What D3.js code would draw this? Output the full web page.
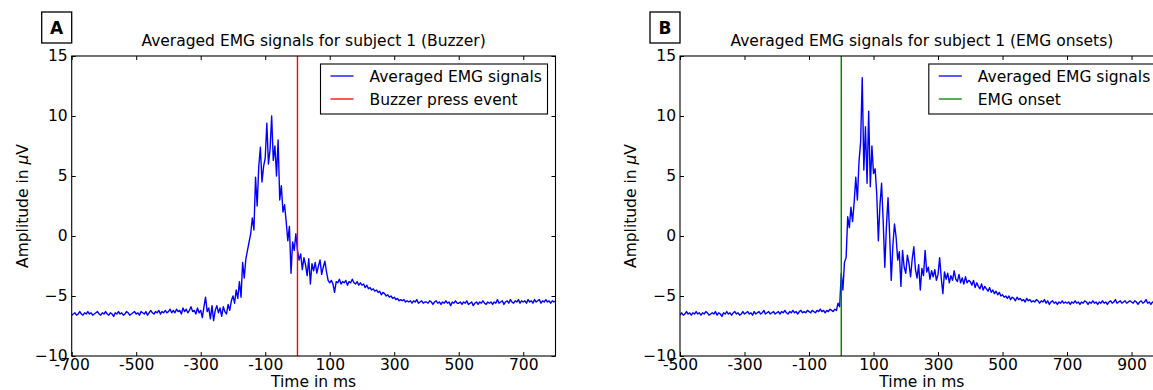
<!DOCTYPE html>
<html>
<head>
<meta charset="utf-8">
<script src="https://cdn.jsdelivr.net/npm/d3@7"></script>
<style>
  body { margin: 0; background: #fff; }
  svg { display: block; font-family: 'DejaVu Sans', sans-serif; }
</style>
</head>
<body>
<svg width="1153" height="390"></svg>
<script>
// Averaged EMG amplitude (uV), one value every 5 ms
// Panel A: -700 .. 800 ms, aligned on buzzer press
const emgA = [
  -6.6,-6.5,-6.4,-6.6,-6.5,-6.3,-6.5,-6.6,-6.4,-6.5,-6.3,-6.5,-6.4,-6.6,-6.5,-6.4,-6.3,-6.5,-6.6,-6.4,
  -6.5,-6.3,-6.5,-6.6,-6.4,-6.5,-6.7,-6.4,-6.5,-6.3,-6.5,-6.4,-6.6,-6.5,-6.3,-6.4,-6.6,-6.5,-6.4,-6.3,
  -6.5,-6.4,-6.6,-6.3,-6.4,-6.5,-6.3,-6.6,-6.4,-6.2,-6.4,-6.5,-6.3,-6.4,-6.2,-6.5,-6.3,-6.4,-6.2,-6.4,
  -6.3,-6.1,-6.4,-6.2,-6.4,-6.1,-6.3,-6.2,-6.5,-6.0,-6.3,-6.1,-6.4,-6.2,-5.9,-6.3,-6.2,-6.5,-6.0,-6.4,
  -6.2,-6.8,-5.9,-5.1,-6.3,-6.0,-6.9,-5.8,-7.05,-6.2,-5.8,-6.4,-6.0,-6.7,-5.9,-6.3,-6.5,-5.7,-6.2,-5.4,
  -5.0,-5.6,-4.5,-5.2,-3.8,-5.1,-2.2,-3.5,-1.9,-1.2,-0.5,0.2,1.5,0.5,4.9,2.5,5.8,7.4,4.5,5.8,
  6.5,9.4,6.0,7.2,10.0,6.3,7.5,5.0,8.0,3.0,4.2,2.0,2.6,1.2,-0.4,0.8,-3.1,-0.5,-1.2,0.2,
  -1.2,-2.0,-1.5,-2.8,-1.8,-2.4,-3.3,-1.9,-4.0,-2.3,-2.9,-2.2,-3.1,-2.5,-2.0,-3.2,-2.6,-2.1,-3.0,-3.7,
  -3.9,-3.7,-4.0,-4.7,-3.8,-3.9,-3.6,-4.0,-3.8,-3.9,-3.7,-4.1,-3.8,-3.9,-3.6,-3.9,-4.0,-3.8,-4.1,-3.9,
  -4.1,-4.0,-4.3,-4.1,-4.4,-4.3,-4.5,-4.4,-4.6,-4.5,-4.7,-4.6,-4.9,-4.7,-4.8,-5.0,-4.9,-5.1,-5.0,-5.2,
  -5.1,-5.3,-5.2,-5.4,-5.3,-5.4,-5.3,-5.5,-5.4,-5.5,-5.4,-5.6,-5.4,-5.5,-5.3,-5.6,-5.5,-5.4,-5.6,-5.5,
  -5.5,-5.6,-5.4,-5.5,-5.7,-5.5,-5.4,-5.6,-5.5,-5.7,-5.5,-5.6,-5.4,-5.6,-5.5,-5.8,-5.5,-5.6,-5.4,-5.6,
  -5.6,-5.5,-5.7,-5.5,-5.6,-5.4,-5.7,-5.6,-5.5,-5.8,-5.6,-5.5,-5.7,-5.5,-5.6,-5.4,-5.6,-5.7,-5.5,-5.6,
  -5.5,-5.7,-5.5,-5.6,-5.3,-5.6,-5.5,-5.4,-5.7,-5.5,-5.4,-5.6,-5.3,-5.5,-5.6,-5.4,-5.5,-5.3,-5.6,-5.4,
  -5.5,-5.4,-5.6,-5.3,-5.5,-5.4,-5.6,-5.3,-5.5,-5.4,-5.3,-5.6,-5.4,-5.5,-5.3,-5.5,-5.4,-5.6,-5.4,-5.5,-5.4
];

// Panel B: -500 .. 1000 ms, aligned on EMG onset
const emgB = [
  -6.6,-6.4,-6.6,-6.5,-6.3,-6.5,-6.4,-6.6,-6.4,-6.5,-6.3,-6.5,-6.4,-6.6,-6.4,-6.5,-6.3,-6.4,-6.6,-6.5,
  -6.4,-6.5,-6.3,-6.6,-6.4,-6.5,-6.7,-6.4,-6.5,-6.3,-6.5,-6.4,-6.6,-6.4,-6.3,-6.5,-6.4,-6.6,-6.5,-6.3,
  -6.5,-6.4,-6.3,-6.5,-6.4,-6.6,-6.3,-6.5,-6.4,-6.3,-6.5,-6.4,-6.2,-6.5,-6.4,-6.3,-6.5,-6.4,-6.3,-6.5,
  -6.4,-6.3,-6.5,-6.3,-6.4,-6.2,-6.4,-6.5,-6.3,-6.4,-6.2,-6.4,-6.3,-6.5,-6.3,-6.2,-6.4,-6.3,-6.4,-6.2,
  -6.3,-6.4,-6.2,-6.3,-6.4,-6.2,-6.3,-6.1,-6.3,-6.2,-6.4,-6.2,-6.3,-6.1,-6.2,-6.3,-6.1,-6.2,-5.6,-5.9,
  -3.1,-4.5,-2.2,-1.8,1.6,0.7,2.4,1.2,2.8,4.9,3.0,6.2,7.8,13.2,5.5,9.1,4.4,10.4,4.1,7.5,
  5.2,5.6,3.5,-0.4,2.6,4.4,1.2,-2.6,0.8,3.2,0.1,-3.7,-0.8,1.0,-0.1,-2.0,-1.3,-4.2,-1.2,-2.6,
  -3.1,-1.6,-2.3,-3.4,-1.9,-0.9,-2.8,-3.5,-2.4,-4.5,-2.7,-3.3,-1.2,-3.0,-2.6,-3.6,-2.9,-3.4,-2.8,-3.7,
  -3.2,-1.8,-3.5,-4.8,-3.0,-3.6,-3.1,-3.9,-3.3,-3.7,-2.9,-3.6,-3.8,-3.2,-3.9,-3.5,-4.0,-3.4,-3.9,-3.7,
  -3.8,-4.1,-3.7,-4.3,-3.9,-4.2,-4.4,-4.0,-4.5,-4.2,-4.4,-4.6,-4.3,-4.7,-4.5,-4.8,-4.6,-4.9,-4.7,-5.0,
  -4.9,-5.1,-5.0,-5.2,-5.0,-5.3,-5.1,-5.2,-5.4,-5.1,-5.3,-5.2,-5.4,-5.3,-5.5,-5.2,-5.4,-5.3,-5.5,-5.4,
  -5.5,-5.3,-5.4,-5.6,-5.4,-5.5,-5.3,-5.6,-5.4,-5.7,-5.5,-5.4,-5.6,-5.5,-5.7,-5.5,-5.6,-5.4,-5.6,-5.5,
  -5.6,-5.5,-5.7,-5.5,-5.6,-5.4,-5.6,-5.5,-5.7,-5.5,-5.6,-5.4,-5.5,-5.7,-5.5,-5.6,-5.4,-5.6,-5.5,-5.7,
  -5.5,-5.6,-5.4,-5.6,-5.5,-5.7,-5.5,-5.4,-5.6,-5.5,-5.3,-5.6,-5.5,-5.4,-5.6,-5.5,-5.4,-5.6,-5.5,-5.4,
  -5.5,-5.6,-5.4,-5.5,-5.7,-5.5,-5.4,-5.6,-5.5,-5.3,-5.6,-5.5,-5.7,-5.5,-5.6,-5.4,-5.6,-5.5,-5.7,-5.6,-5.5
];

const startA = -700;
const startB = -500;
const stepMs = 5;

// tick labels
const xTicksA = [-700, -500, -300, -100, 100, 300, 500, 700];
const xTicksB = [-500, -300, -100, 100, 300, 500, 700, 900];
const yTicks  = [-10, -5, 0, 5, 10, 15];

const svg = d3.select('svg');
const fontSize = 15.5;
const plotTop = 56, plotBottom = 356;

const drawPanel = p => {
  const g = svg.append('g');

  const xScale = d3.scaleLinear().domain(p.xDomain).range([p.left, p.right]);
  const yScale = d3.scaleLinear().domain([-10, 15]).range([plotBottom, plotTop]);

  const series = p.values.map((v, i) => ({ t: p.start + i * stepMs, v }));

  // clip so the trace stays inside the frame
  g.append('clipPath').attr('id', 'clip-' + p.id)
    .append('rect')
      .attr('x', p.left).attr('y', plotTop)
      .attr('width', p.right - p.left).attr('height', plotBottom - plotTop);

  // axes: ticks point inward on all four sides (classic matplotlib)
  const bottomAxis = g.append('g')
    .attr('transform', `translate(0,${plotBottom})`)
    .call(d3.axisBottom(xScale).tickValues(p.xTicks).tickSize(-4).tickPadding(3)
      .tickFormat(d => String(d)));
  const topAxis = g.append('g')
    .attr('transform', `translate(0,${plotTop})`)
    .call(d3.axisTop(xScale).tickValues(p.xTicks).tickSize(-4).tickFormat(''));
  const leftAxis = g.append('g')
    .attr('transform', `translate(${p.left},0)`)
    .call(d3.axisLeft(yScale).tickValues(yTicks).tickSize(-4).tickPadding(4));
  const rightAxis = g.append('g')
    .attr('transform', `translate(${p.right},0)`)
    .call(d3.axisRight(yScale).tickValues(yTicks).tickSize(-4).tickFormat(''));

  [bottomAxis, topAxis, leftAxis, rightAxis].forEach(a => {
    a.selectAll('.domain').remove();
    a.attr('font-size', fontSize).attr('font-family', 'DejaVu Sans, sans-serif');
    a.selectAll('.tick line').attr('stroke', '#000').attr('stroke-width', 1);
    a.selectAll('.tick text').attr('fill', '#000');
  });

  // EMG trace
  const line = d3.line()
    .x(d => xScale(d.t))
    .y(d => yScale(d.v));

  g.append('path')
    .datum(series)
    .attr('clip-path', `url(#clip-${p.id})`)
    .attr('fill', 'none')
    .attr('stroke', '#0000ff')
    .attr('stroke-width', 1.4)
    .attr('stroke-linejoin', 'round')
    .attr('d', line);

  // event marker at t = 0
  g.append('line')
    .attr('x1', xScale(0)).attr('x2', xScale(0))
    .attr('y1', plotTop).attr('y2', plotBottom)
    .attr('stroke', p.eventColor)
    .attr('stroke-width', 1.4);

  // frame
  g.append('rect')
    .attr('x', p.left).attr('y', plotTop)
    .attr('width', p.right - p.left).attr('height', plotBottom - plotTop)
    .attr('fill', 'none').attr('stroke', '#000').attr('stroke-width', 1.1);

  // title and axis labels
  const midX = (p.left + p.right) / 2;
  g.append('text')
    .attr('x', midX).attr('y', 46)
    .attr('text-anchor', 'middle')
    .attr('font-size', fontSize)
    .text(p.title);

  g.append('text')
    .attr('x', midX).attr('y', 387)
    .attr('text-anchor', 'middle')
    .attr('font-size', fontSize)
    .text('Time in ms');

  const yLabel = g.append('text')
    .attr('transform', `translate(${p.left - 44},${(plotTop + plotBottom) / 2}) rotate(-90)`)
    .attr('text-anchor', 'middle')
    .attr('font-size', fontSize);
  yLabel.append('tspan').text('Amplitude in ');
  yLabel.append('tspan').attr('font-style', 'italic').text('\u03bc');
  yLabel.append('tspan').text('V');

  // panel letter in a box
  g.append('rect')
    .attr('x', p.left - 30).attr('y', 12)
    .attr('width', 30).attr('height', 31)
    .attr('fill', '#fff').attr('stroke', '#000').attr('stroke-width', 1.3);
  g.append('text')
    .attr('x', p.left - 15).attr('y', 34)
    .attr('text-anchor', 'middle')
    .attr('font-weight', 'bold')
    .attr('font-size', 17)
    .text(p.letter);

  // legend, upper right
  const legW = 227, legH = 50;
  const legX = p.right - 8 - legW, legY = 64;
  const leg = g.append('g').attr('transform', `translate(${legX},${legY})`);
  leg.append('rect')
    .attr('width', legW).attr('height', legH)
    .attr('fill', '#fff').attr('stroke', '#000').attr('stroke-width', 1.1);
  const legItems = [
    { label: 'Averaged EMG signals', color: '#0000ff' },
    { label: p.eventLabel, color: p.eventColor }
  ];
  legItems.forEach((d, i) => {
    const rowY = 12 + i * 23;
    leg.append('line')
      .attr('x1', 10).attr('x2', 33)
      .attr('y1', rowY).attr('y2', rowY)
      .attr('stroke', d.color).attr('stroke-width', 1.3);
    leg.append('text')
      .attr('x', 49).attr('y', rowY + 5.5)
      .attr('font-size', fontSize)
      .text(d.label);
  });
};

drawPanel({
  id: 'a', letter: 'A',
  left: 71.7, right: 555.5,
  xDomain: [-700, 800], xTicks: xTicksA,
  start: startA, values: emgA,
  eventColor: '#ff0000', eventLabel: 'Buzzer press event',
  title: 'Averaged EMG signals for subject 1 (Buzzer)'
});

drawPanel({
  id: 'b', letter: 'B',
  left: 680, right: 1163.8,
  xDomain: [-500, 1000], xTicks: xTicksB,
  start: startB, values: emgB,
  eventColor: '#008000', eventLabel: 'EMG onset',
  title: 'Averaged EMG signals for subject 1 (EMG onsets)'
});
</script>
</body>
</html>
